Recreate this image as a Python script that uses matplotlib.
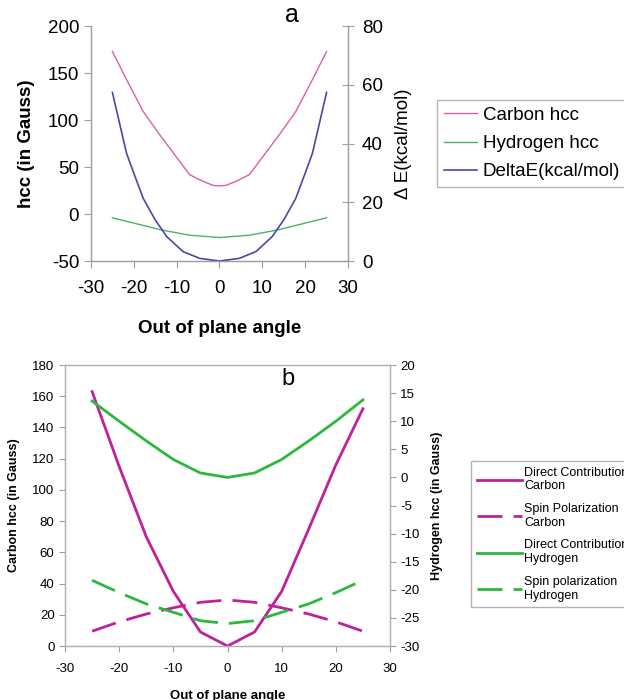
import numpy as np
import matplotlib
matplotlib.use("Agg")
import matplotlib.pyplot as plt

plt.rcParams["font.family"] = ["Liberation Sans", "DejaVu Sans"]
plt.rcParams["axes.unicode_minus"] = False

# ── panel a ────────────────────────────────────────────────────────────────
carbon_x = [-25, -21.7, -17.8, -13.9, -7, -4, -1.5, 0, 1.5, 4, 7, 13.9, 17.8, 21.7, 25]
carbon_y = [173, 143, 109, 84, 42, 35, 30.5, 30, 30.5, 35, 42, 84, 109, 143, 173]
hydro_x = [-25, -13.5, -7, 0, 7, 13.5, 25]
hydro_y = [-4, -17, -22.5, -25, -22.5, -17, -4]
de_x = [-25, -21.7, -20, -17.8, -15, -12.3, -8.5, -4.6, 0,
        4.6, 8.5, 12.3, 15, 17.8, 20, 21.7, 25]
de_y = [57.4, 36.7, 29.9, 21.3, 14, 8.3, 3.2, 0.9, 0,
        0.9, 3.2, 8.3, 14, 21.3, 29.9, 36.7, 57.4]

# ── panel b ────────────────────────────────────────────────────────────────
angle_b = [-25, -20, -15, -10, -5, 0, 5, 10, 15, 20, 25]
c_direct = [163, 115, 70, 35, 9, 0, 9, 35, 75, 116, 152]
c_spin = [9.5, 15.5, 20.5, 24.5, 28, 29.5, 28, 24.5, 20.5, 15.5, 9.5]
h_direct = [13.6, 10, 6.5, 3.2, 0.8, 0, 0.8, 3.2, 6.5, 10, 13.8]
h_spin = [-18.3, -20.5, -22.5, -24, -25.5, -26, -25.5, -24, -22.5, -20.5, -18.3]

PINK_A, GREEN_A, BLUE_A = "#d860a8", "#50b060", "#4848a8"
MAG_B, GREEN_B = "#c0209c", "#2cb83c"
GRID = "#a0a0a0"

fig = plt.figure(figsize=(6.24, 7.00), dpi=100)

# ── top chart ──────────────────────────────────────────────────────────────
ax = fig.add_axes([0.1458, 0.6271, 0.4119, 0.3357])
ax2 = ax.twinx()
l1, = ax.plot(carbon_x, carbon_y, color=PINK_A, lw=1.0, label="Carbon hcc")
l2, = ax.plot(hydro_x, hydro_y, color=GREEN_A, lw=1.0, label="Hydrogen hcc")
l3, = ax2.plot(de_x, de_y, color=BLUE_A, lw=1.2, label="DeltaE(kcal/mol)")
ax.set_xlim(-30, 30)
ax.set_ylim(-50, 200)
ax2.set_ylim(0, 80)
ax.set_xticks(range(-30, 31, 10))
ax.set_yticks(range(-50, 201, 50))
ax2.set_yticks(range(0, 81, 20))
for a in (ax, ax2):
    a.spines["top"].set_visible(False)
    for s in a.spines.values():
        s.set_color(GRID)
        s.set_linewidth(0.9)
    a.tick_params(labelsize=13.5, color=GRID, length=5)
ax.tick_params(axis="x", pad=9)
ax2.tick_params(axis="y", direction="inout", length=8, pad=6)
ax.set_ylabel("hcc (in Gauss)", fontsize=13.5, fontweight="bold", labelpad=9)
ax2.set_ylabel("Δ E(kcal/mol)", fontsize=13.5, labelpad=9)
ax.set_xlabel("Out of plane angle", fontsize=13.5, fontweight="bold", labelpad=16)
fig.text(0.468, 0.962, "a", fontsize=18, ha="center", va="bottom")

fig.legend(handles=[l1, l2, l3], loc="upper left",
           bbox_to_anchor=(437 / 624, 1 - 100 / 700), fontsize=13.5,
           frameon=True, fancybox=False, edgecolor="#a0a0a0",
           handlelength=1.8, handletextpad=0.3, borderpad=0.35,
           labelspacing=0.6, borderaxespad=0)

# ── bottom chart ───────────────────────────────────────────────────────────
bx = fig.add_axes([0.1042, 0.0771, 0.5208, 0.4014])
bx2 = bx.twinx()
m1, = bx.plot(angle_b, c_direct, color=MAG_B, lw=2.0,
              label="Direct Contribution\nCarbon")
m2, = bx.plot(angle_b, c_spin, color=MAG_B, lw=2.0, dashes=(9, 4),
              label="Spin Polarization\nCarbon")
m3, = bx2.plot(angle_b, h_direct, color=GREEN_B, lw=2.0,
               label="Direct Contribution\nHydrogen")
m4, = bx2.plot(angle_b, h_spin, color=GREEN_B, lw=2.0, dashes=(9, 4),
               label="Spin polarization\nHydrogen")
bx.set_xlim(-30, 30)
bx.set_ylim(0, 180)
bx2.set_ylim(-30, 20)
bx.set_xticks(range(-30, 31, 10))
bx.set_yticks(range(0, 181, 20))
bx2.set_yticks(range(-30, 21, 5))
for a in (bx, bx2):
    for s in a.spines.values():
        s.set_color("#b0b0b0")
        s.set_linewidth(0.9)
    a.tick_params(labelsize=9.5, color=GRID, length=4)
bx.tick_params(axis="x", pad=8)
bx.set_ylabel("Carbon hcc (in Gauss)", fontsize=9, fontweight="bold", labelpad=9)
bx2.set_ylabel("Hydrogen hcc (in Gauss)", fontsize=9, fontweight="bold", labelpad=8)
bx.set_xlabel("Out of plane angle", fontsize=9.5, fontweight="bold", labelpad=11)
fig.text(0.462, 0.443, "b", fontsize=17, ha="center", va="bottom")

fig.legend(handles=[m1, m2, m3, m4], loc="upper left",
           bbox_to_anchor=(471 / 624, 1 - 461 / 700), fontsize=9,
           frameon=True, fancybox=False, edgecolor="#a0a0a0",
           handlelength=3.6, handletextpad=0.2, borderpad=0.45,
           labelspacing=0.85, borderaxespad=0)

fig.savefig("out.png", dpi=100)
